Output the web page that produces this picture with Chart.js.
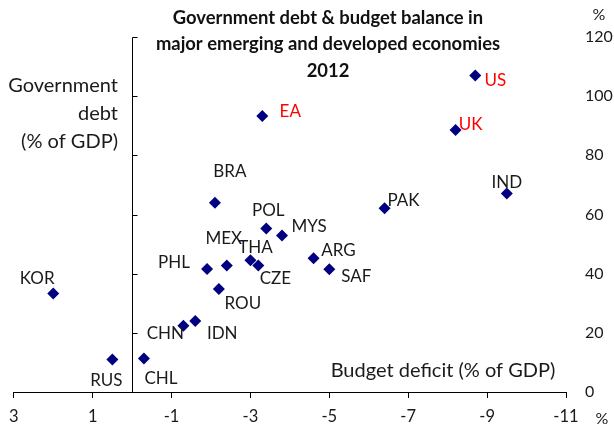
<!DOCTYPE html>
<html><head><meta charset="utf-8">
<style>html,body{margin:0;padding:0;background:#fff}#wrap{width:614px;height:434px}</style>
<script src="https://cdn.jsdelivr.net/npm/chart.js@4/dist/chart.umd.min.js"></script>
</head><body><div id="wrap"><canvas id="c" width="614" height="434"></canvas></div>
<script>
// ---- data ----
const countries = ['US','UK','EA','IND','PAK','BRA','POL','MYS','MEX','THA','CZE','ARG','SAF','PHL','ROU','KOR','IDN','CHN','RUS','CHL'];
const budgetBalance = [-8.7,-8.2,-3.3,-9.5,-6.4,-2.1,-3.4,-3.8,-2.4,-3.0,-3.2,-4.6,-5.0,-1.9,-2.2,2.0,-1.6,-1.3,0.5,-0.3];
const governmentDebt = [107,88.6,93.3,67.1,62.1,64.0,55.3,52.9,42.8,44.5,42.8,45.2,41.5,41.6,34.8,33.3,24.0,22.4,11.0,11.3];
const redLabels = ['US','UK','EA'];
const xTicks = [3,1,-1,-3,-5,-7,-9,-11];
const yTicks = [0,20,40,60,80,100,120];
const titleLines = ['Government debt & budget balance in','major emerging and developed economies','2012'];
const yTitleLines = ['Government','debt','(% of GDP)'];
const xTitle = 'Budget deficit (% of GDP)';

// label offsets (pixels) relative to each point
const labelOffsets = {
  US:[20,5], UK:[15,-5], EA:[28,-4], IND:[0,-11], PAK:[19,-8], BRA:[15,-31], POL:[2,-18],
  MYS:[27,-9], MEX:[-3,-27], THA:[5,-13], CZE:[17,13], ARG:[25,-8], SAF:[27,7], PHL:[-33,-6],
  ROU:[24,14], KOR:[-16,-15], IDN:[27,13], CHN:[-18,8], RUS:[-6,21], CHL:[17,20]
};

const FONT = 'Lato, "Open Sans", sans-serif';
const TEXT = '#1a1a1a';

const points = countries.map((c,i)=>({x:budgetBalance[i], y:governmentDebt[i], label:c}));

const annot = {
  id:'annot',
  beforeDatasetsDraw(chart){
    const {ctx, scales:{x,y}} = chart;
    const px = Math.round(x.getPixelForValue(0)) + 0.5;
    ctx.save();
    ctx.strokeStyle = '#000'; ctx.lineWidth = 1;
    ctx.beginPath();
    ctx.moveTo(px, y.getPixelForValue(0));
    ctx.lineTo(px, Math.round(y.getPixelForValue(120))+0.5);
    yTicks.slice(1).forEach(v=>{
      const py = Math.round(y.getPixelForValue(v))+0.5;
      ctx.moveTo(px, py); ctx.lineTo(px+5, py);
    });
    ctx.stroke();
    ctx.restore();
  },
  afterDatasetsDraw(chart){
    const {ctx, scales:{x,y}} = chart;
    ctx.save();
    ctx.textBaseline = 'middle';
    // country labels
    ctx.font = '17px ' + FONT;
    ctx.textAlign = 'center';
    points.forEach(p=>{
      const o = labelOffsets[p.label] || [0,-12];
      ctx.fillStyle = redLabels.includes(p.label) ? '#ff0000' : TEXT;
      ctx.fillText(p.label, x.getPixelForValue(p.x)+o[0], y.getPixelForValue(p.y)+o[1]);
    });
    // title
    ctx.fillStyle = '#111';
    ctx.font = 'bold 18.4px ' + FONT;
    titleLines.forEach((t,i)=>ctx.fillText(t, 328, 18 + i*26.5));
    // y title
    ctx.fillStyle = TEXT;
    ctx.font = '20px ' + FONT;
    ctx.textAlign = 'right';
    yTitleLines.forEach((t,i)=>ctx.fillText(t, 118, 86 + i*28));
    // x title
    ctx.textAlign = 'center';
    ctx.fillText(xTitle, 443, 371);
    // percent signs
    ctx.font = '16px ' + FONT;
    ctx.fillText('%', 599, 15);
    ctx.fillText('%', 602, 419);
    ctx.restore();
  }
};

new Chart(document.getElementById('c'), {
  type:'scatter',
  data:{datasets:[{
    data:points,
    pointStyle:'rectRot',
    pointRadius:6,
    pointHoverRadius:6,
    backgroundColor:'#000080',
    borderColor:'#000080',
    borderWidth:0
  }]},
  options:{
    responsive:false,
    animation:false,
    devicePixelRatio:1,
    layout:{padding:{left:9, top:37, right:0, bottom:0}},
    plugins:{legend:{display:false}, tooltip:{enabled:false}, title:{display:false}},
    scales:{
      x:{
        type:'linear', min:-11, max:3, reverse:true,
        afterBuildTicks(s){ s.ticks = xTicks.map(v=>({value:v})); },
        afterFit(s){ s.height = 42; },
        ticks:{font:{family:FONT, size:16.5}, color:TEXT, padding:9, maxRotation:0},
        grid:{drawOnChartArea:false, drawTicks:true, tickLength:6, color:'#000'},
        border:{display:true, color:'#000', width:1}
      },
      y:{
        type:'linear', position:'right', min:0, max:120,
        afterBuildTicks(s){ s.ticks = yTicks.map(v=>({value:v})); },
        afterFit(s){ s.width = 48; },
        ticks:{font:{family:FONT, size:16}, color:TEXT, padding:19},
        grid:{display:false, drawTicks:false},
        border:{display:false}
      }
    }
  },
  plugins:[annot]
});
</script>
</body></html>
